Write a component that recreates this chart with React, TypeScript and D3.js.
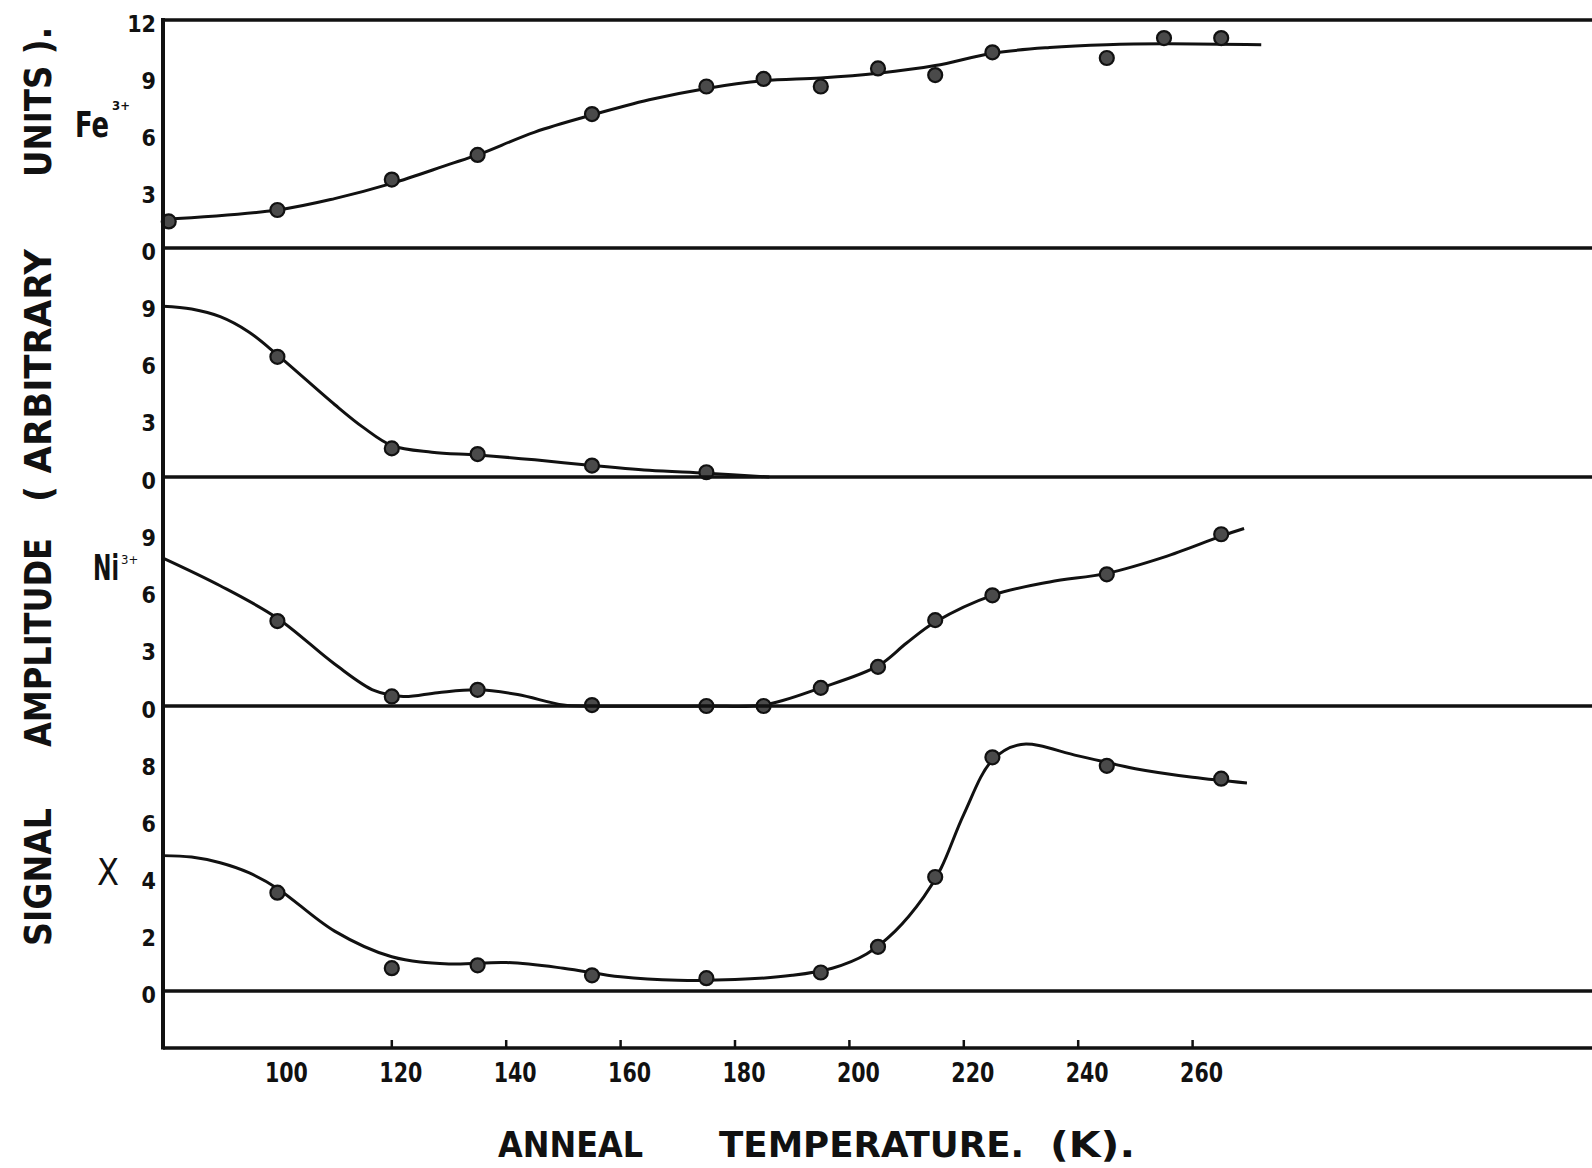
import * as d3 from 'd3'

// anneal temperatures (K) of the measured points, one list per panel
const feTemps = [81, 100, 120, 135, 155, 175, 185, 195, 205, 215, 225, 245, 255, 265]
const feValues = [1.4, 2.0, 3.6, 4.9, 7.05, 8.5, 8.9, 8.5, 9.45, 9.1, 10.3, 10.0, 11.05, 11.05]
const feCurveTemps = [80, 100, 110, 120, 130, 135, 145, 155, 165, 175, 185, 195, 205, 215, 225, 235, 245, 255, 272]
const feCurveValues = [1.5, 2.0, 2.6, 3.4, 4.4, 4.9, 6.1, 7.0, 7.8, 8.4, 8.8, 8.95, 9.2, 9.6, 10.25, 10.55, 10.7, 10.75, 10.7]

const secondTemps = [100, 120, 135, 155, 175]
const secondValues = [6.3, 1.5, 1.2, 0.6, 0.25]
const secondCurveTemps = [80, 85, 90, 95, 100, 110, 115, 120, 127, 135, 145, 155, 165, 175, 186]
const secondCurveValues = [8.95, 8.8, 8.4, 7.6, 6.4, 3.8, 2.6, 1.65, 1.3, 1.15, 0.9, 0.6, 0.35, 0.2, 0.0]

const niTemps = [100, 120, 135, 155, 175, 185, 195, 205, 215, 225, 245, 265]
const niValues = [4.45, 0.5, 0.85, 0.05, 0.0, 0.0, 0.95, 2.05, 4.5, 5.8, 6.9, 9.0]
const niCurveTemps = [80, 90, 100, 110, 117, 122, 128, 135, 142, 150, 155, 175, 185, 195, 205, 210, 215, 225, 235, 245, 255, 265, 269]
const niCurveValues = [7.75, 6.3, 4.6, 2.2, 0.8, 0.5, 0.7, 0.85, 0.6, 0.05, 0.0, 0.0, 0.05, 0.95, 2.1, 3.3, 4.4, 5.8, 6.5, 6.95, 7.8, 8.9, 9.3]

const xTemps = [100, 120, 135, 155, 175, 195, 205, 215, 225, 245, 265]
const xValues = [3.45, 0.8, 0.9, 0.55, 0.45, 0.65, 1.55, 4.0, 8.2, 7.9, 7.45]
const xCurveTemps = [80, 85, 90, 95, 100, 110, 120, 130, 140, 150, 160, 170, 180, 190, 197, 203, 208, 213, 216, 220, 225, 230, 240, 250, 260, 269.5]
const xCurveValues = [4.75, 4.7, 4.5, 4.15, 3.6, 2.1, 1.2, 0.95, 1.0, 0.8, 0.5, 0.38, 0.4, 0.55, 0.8, 1.3, 2.1, 3.3, 4.3, 6.2, 8.1, 8.65, 8.25, 7.8, 7.5, 7.3]

const tempTicks = [120, 140, 160, 180, 200, 220, 240, 260]
const tempLabels = [100, 120, 140, 160, 180, 200, 220, 240, 260]

const feTicks = [0, 3, 6, 9, 12]
const secondTicks = [0, 3, 6, 9]
const niTicks = [0, 3, 6, 9]
const xTicks = [0, 2, 4, 6, 8]

const W = 1592
const H = 1168
const left = 163
const ink = '#111'
const font = "'DejaVu Sans Condensed', 'DejaVu Sans', sans-serif"

const x = d3.scaleLinear().domain([80, 330]).range([left, W + 1])

const panels = [
  { temps: feTemps, values: feValues, cT: feCurveTemps, cV: feCurveValues, ticks: feTicks,
    y: d3.scaleLinear().domain([0, 12]).range([248, 20]) },
  { temps: secondTemps, values: secondValues, cT: secondCurveTemps, cV: secondCurveValues, ticks: secondTicks,
    y: d3.scaleLinear().domain([0, 12]).range([477, 248]) },
  { temps: niTemps, values: niValues, cT: niCurveTemps, cV: niCurveValues, ticks: niTicks,
    y: d3.scaleLinear().domain([0, 12]).range([706, 477]) },
  { temps: xTemps, values: xValues, cT: xCurveTemps, cV: xCurveValues, ticks: xTicks,
    y: d3.scaleLinear().domain([-2, 10]).range([1048, 706]) },
]

const yTitle = [
  { text: 'SIGNAL', from: 946, to: 808 },
  { text: 'AMPLITUDE', from: 747, to: 538 },
  { text: '( ARBITRARY', from: 502, to: 249 },
  { text: 'UNITS ).', from: 177, to: 27 },
]

const xTitle = [
  { text: 'ANNEAL', from: 498, to: 643 },
  { text: 'TEMPERATURE.', from: 719, to: 1024 },
  { text: '(K).', from: 1050, to: 1135 },
]

export default function App() {
  const bottom = panels[3].y(-2)
  return (
    <svg width={W} height={H} style={{ position: 'absolute', left: 0, top: 0, background: '#fff' }}>
      <rect width={W} height={H} fill="#fff" />

      {panels.map((p, i) => {
        const line = d3.line<number>()
          .x((_, k) => x(p.cT[k]))
          .y(v => p.y(v))
          .curve(d3.curveCatmullRom.alpha(0.5))
        return (
          <g key={i}>
            <path d={line(p.cV) ?? ''} fill="none" stroke={ink} strokeWidth={3} />
            {p.temps.map((t, k) => (
              <circle key={k} cx={x(t)} cy={p.y(p.values[k])} r={7} fill="#4a4a4a" stroke={ink} strokeWidth={2.2} />
            ))}
            <line x1={left} x2={W} y1={p.y(0)} y2={p.y(0)} stroke={ink} strokeWidth={3.5} />
            {p.ticks.map(v => (
              <text key={v} x={156} y={p.y(v) + 5} textAnchor="end" dominantBaseline="middle"
                fontFamily={font} fontWeight="bold" fontSize={23} fill={ink}>{v}</text>
            ))}
          </g>
        )
      })}

      {/* frame */}
      <line x1={left} x2={W} y1={20} y2={20} stroke={ink} strokeWidth={3.5} />
      <line x1={left} x2={W} y1={bottom} y2={bottom} stroke={ink} strokeWidth={3.5} />
      <line x1={left} x2={left} y1={18} y2={bottom + 1.5} stroke={ink} strokeWidth={4} />

      {tempTicks.map(t => (
        <line key={t} x1={x(t)} x2={x(t)} y1={bottom} y2={bottom - 8} stroke={ink} strokeWidth={2.5} />
      ))}
      {tempLabels.map(t => (
        <text key={t} x={x(t) + 9} y={1082} textAnchor="middle" fontFamily={font} fontWeight="bold"
          fontSize={27} fill={ink} textLength={43} lengthAdjust="spacingAndGlyphs">{t}</text>
      ))}

      {/* species labels */}
      <text fontFamily={font} fontWeight="bold" fill={ink}>
        <tspan x={75} y={137} fontSize={36} textLength={34} lengthAdjust="spacingAndGlyphs">Fe</tspan>
        <tspan x={112} y={110} fontSize={13}>3+</tspan>
      </text>
      <text fontFamily={font} fontWeight="bold" fill={ink}>
        <tspan x={93} y={580} fontSize={36} textLength={26} lengthAdjust="spacingAndGlyphs">Ni</tspan>
        <tspan x={121} y={564} fontSize={13} fontWeight="normal">3+</tspan>
      </text>
      <text x={97} y={885} fontFamily={font} fontSize={37} fill={ink} textLength={22} lengthAdjust="spacingAndGlyphs">X</text>

      {/* axis titles */}
      {yTitle.map(w => (
        <text key={w.text} transform={`translate(51,${w.from}) rotate(-90)`} fontFamily={font} fontWeight="bold"
          fontSize={38} fill={ink} textLength={w.from - w.to} lengthAdjust="spacingAndGlyphs">{w.text}</text>
      ))}
      {xTitle.map(w => (
        <text key={w.text} x={w.from} y={1157} fontFamily={font} fontWeight="bold" fontSize={36} fill={ink}
          textLength={w.to - w.from} lengthAdjust="spacingAndGlyphs">{w.text}</text>
      ))}
    </svg>
  )
}
